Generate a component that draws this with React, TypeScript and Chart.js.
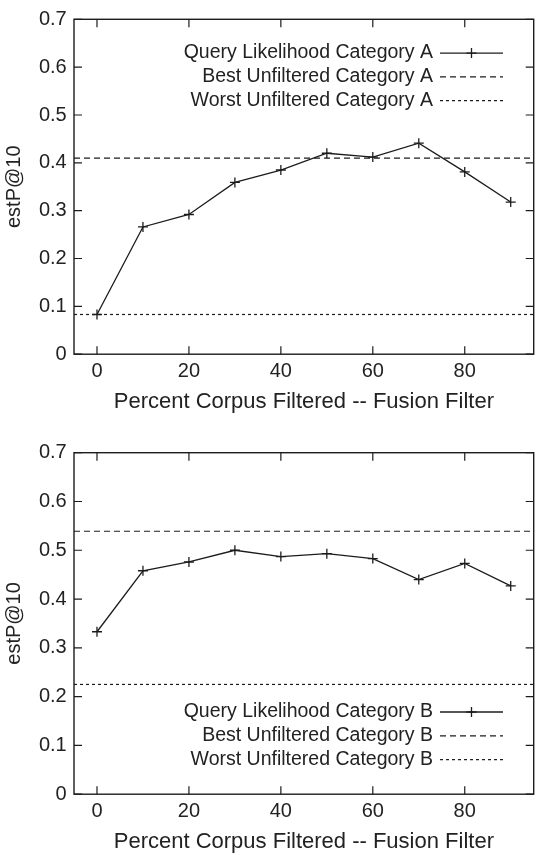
import React, { useEffect, useRef } from "react";
import { Chart, registerables } from "chart.js";

Chart.register(...registerables);

// ---------- data ----------
const X_VALUES = [0, 10, 20, 30, 40, 50, 60, 70, 80, 90];

const QL_A = [0.083, 0.266, 0.292, 0.359, 0.385, 0.42, 0.412, 0.441, 0.381, 0.318];
const BEST_A = 0.41;
const WORST_A = 0.083;

const QL_B = [0.333, 0.458, 0.476, 0.5, 0.487, 0.493, 0.483, 0.44, 0.473, 0.427];
const BEST_B = 0.539;
const WORST_B = 0.225;

const LABELS_A = ["Query Likelihood Category A", "Best Unfiltered Category A", "Worst Unfiltered Category A"];
const LABELS_B = ["Query Likelihood Category B", "Best Unfiltered Category B", "Worst Unfiltered Category B"];

const X_TICKS = [0, 20, 40, 60, 80];
const Y_TICKS = [0, 0.1, 0.2, 0.3, 0.4, 0.5, 0.6, 0.7];
const X_MIN = -5;
const X_MAX = 95;
const Y_MIN = 0;
const Y_MAX = 0.7;

const X_TITLE = "Percent Corpus Filtered -- Fusion Filter";
const Y_TITLE = "estP@10";

// ---------- style ----------
const FONT = '"Liberation Sans", Arial, Helvetica, sans-serif';
const INK = "#1c1c1c";
const TEXT = "#222222";
const TICK_LEN = 8;
const PLOT_LEFT = 74;
const PLOT_RIGHT_PAD = 2.7;
const PLOT_H = 341.5;
const TICK_FONT = 20;
const XTITLE_FONT = 22;
const YTITLE_FONT = 20;
const LEGEND_FONT = 19.5;

const framePlugin = {
  id: "gnuFrame",
  afterDraw(chart: any) {
    const { ctx, chartArea } = chart;
    const { left, right, top, bottom } = chartArea;
    const xs = chart.scales.x;
    const ys = chart.scales.y;
    ctx.save();
    ctx.strokeStyle = INK;
    ctx.lineWidth = 1.4;
    ctx.setLineDash([]);
    ctx.strokeRect(left, top, right - left, bottom - top);
    ctx.lineWidth = 1.2;
    ctx.beginPath();
    for (const t of xs.ticks) {
      const p = xs.getPixelForValue(t.value);
      ctx.moveTo(p, bottom);
      ctx.lineTo(p, bottom - TICK_LEN);
      ctx.moveTo(p, top);
      ctx.lineTo(p, top + TICK_LEN);
    }
    for (const t of ys.ticks) {
      const p = ys.getPixelForValue(t.value);
      ctx.moveTo(left, p);
      ctx.lineTo(left + TICK_LEN, p);
      ctx.moveTo(right, p);
      ctx.lineTo(right - TICK_LEN, p);
    }
    ctx.stroke();
    ctx.restore();
  },
};

const legendPlugin = {
  id: "gnuLegend",
  afterDraw(chart: any, _args: any, opts: any) {
    const { ctx, chartArea } = chart;
    ctx.save();
    ctx.font = `${LEGEND_FONT}px ${FONT}`;
    ctx.textAlign = "right";
    ctx.textBaseline = "middle";
    chart.data.datasets.forEach((ds: any, i: number) => {
      const y = chartArea.top + opts.top + i * opts.rowGap;
      ctx.fillStyle = TEXT;
      ctx.fillText(ds.label, opts.textRight, y);
      ctx.strokeStyle = ds.borderColor;
      ctx.lineWidth = ds.borderWidth;
      ctx.setLineDash(ds.borderDash || []);
      ctx.beginPath();
      ctx.moveTo(opts.sampleLeft, y);
      ctx.lineTo(opts.sampleRight, y);
      ctx.stroke();
      ctx.setLineDash([]);
      if (ds.pointStyle === "cross" && ds.pointRadius > 0) {
        const cx = (opts.sampleLeft + opts.sampleRight) / 2;
        const r = ds.pointRadius;
        ctx.lineWidth = ds.pointBorderWidth;
        ctx.beginPath();
        ctx.moveTo(cx - r, y);
        ctx.lineTo(cx + r, y);
        ctx.moveTo(cx, y - r);
        ctx.lineTo(cx, y + r);
        ctx.stroke();
      }
    });
    ctx.restore();
  },
};

type PanelProps = {
  values: number[];
  best: number;
  worst: number;
  labels: string[];
  canvasHeight: number;
  plotTop: number;
  legendTop: number;
};

function Panel({ values, best, worst, labels, canvasHeight, plotTop, legendTop }: PanelProps) {
  const ref = useRef<HTMLCanvasElement | null>(null);

  useEffect(() => {
    if (!ref.current) return;
    const plotBottom = plotTop + PLOT_H;
    const xAxisH = canvasHeight - plotBottom;
    const xTitleLine = XTITLE_FONT * 1.2;
    const xTitlePadBottom = Math.max(0, canvasHeight - (plotBottom + 47.5) - xTitleLine / 2);

    const chart = new Chart(ref.current, {
      type: "line",
      data: {
        datasets: [
          {
            label: labels[0],
            data: X_VALUES.map((x, i) => ({ x, y: values[i] })),
            borderColor: INK,
            borderWidth: 1.3,
            pointStyle: "cross",
            pointRadius: 5,
            pointBorderWidth: 1.3,
            pointBorderColor: INK,
            pointBackgroundColor: INK,
            tension: 0,
            fill: false,
          } as any,
          {
            label: labels[1],
            data: [
              { x: X_MIN, y: best },
              { x: X_MAX, y: best },
            ],
            borderColor: INK,
            borderWidth: 1.2,
            borderDash: [6, 4],
            pointRadius: 0,
            fill: false,
          } as any,
          {
            label: labels[2],
            data: [
              { x: X_MIN, y: worst },
              { x: X_MAX, y: worst },
            ],
            borderColor: INK,
            borderWidth: 1.2,
            borderDash: [3, 3],
            pointRadius: 0,
            fill: false,
          } as any,
        ],
      },
      options: {
        animation: false,
        responsive: false,
        maintainAspectRatio: false,
        events: [],
        layout: {
          padding: { top: plotTop, right: PLOT_RIGHT_PAD, left: 0, bottom: 0 },
        },
        plugins: {
          legend: { display: false },
          tooltip: { enabled: false },
          title: { display: false },
          gnuLegend: {
            top: legendTop,
            rowGap: 23.8,
            textRight: 433,
            sampleLeft: 440,
            sampleRight: 503,
          },
        } as any,
        scales: {
          x: {
            type: "linear",
            position: "bottom",
            min: X_MIN,
            max: X_MAX,
            grid: { display: false, drawTicks: false },
            border: { display: false },
            afterBuildTicks: (s: any) => {
              s.ticks = X_TICKS.map((v) => ({ value: v }));
            },
            afterFit: (s: any) => {
              s.height = xAxisH;
            },
            ticks: {
              padding: 5.5,
              color: TEXT,
              font: { family: FONT, size: TICK_FONT },
              maxRotation: 0,
              autoSkip: false,
              callback: (v: any) => String(v),
            },
            title: {
              display: true,
              text: X_TITLE,
              color: TEXT,
              font: { family: FONT, size: XTITLE_FONT },
              padding: { top: 0, bottom: xTitlePadBottom },
            },
          },
          y: {
            type: "linear",
            position: "left",
            min: Y_MIN,
            max: Y_MAX,
            grid: { display: false, drawTicks: false },
            border: { display: false },
            afterBuildTicks: (s: any) => {
              s.ticks = Y_TICKS.map((v) => ({ value: v }));
            },
            afterFit: (s: any) => {
              s.width = PLOT_LEFT;
            },
            ticks: {
              padding: 7.3,
              color: TEXT,
              font: { family: FONT, size: TICK_FONT },
              autoSkip: false,
              callback: (v: any) => (Number(v) === 0 ? "0" : Number(v).toFixed(1)),
            },
            title: {
              display: true,
              text: Y_TITLE,
              color: TEXT,
              font: { family: FONT, size: YTITLE_FONT },
              padding: { top: 2.5, bottom: 0 },
            },
          },
        },
      },
      plugins: [framePlugin, legendPlugin],
    });
    return () => chart.destroy();
  }, [values, best, worst, labels, canvasHeight, plotTop, legendTop]);

  return <canvas ref={ref} width={540} height={canvasHeight} style={{ display: "block", width: 540, height: canvasHeight }} />;
}

export default function App() {
  return (
    <div style={{ position: "absolute", left: 0, top: 0, width: 540, height: 855, background: "#fff" }}>
      <Panel values={QL_A} best={BEST_A} worst={WORST_A} labels={LABELS_A} canvasHeight={427} plotTop={12.7} legendTop={33.8} />
      <Panel values={QL_B} best={BEST_B} worst={WORST_B} labels={LABELS_B} canvasHeight={428} plotTop={25.7} legendTop={259.3} />
    </div>
  );
}
